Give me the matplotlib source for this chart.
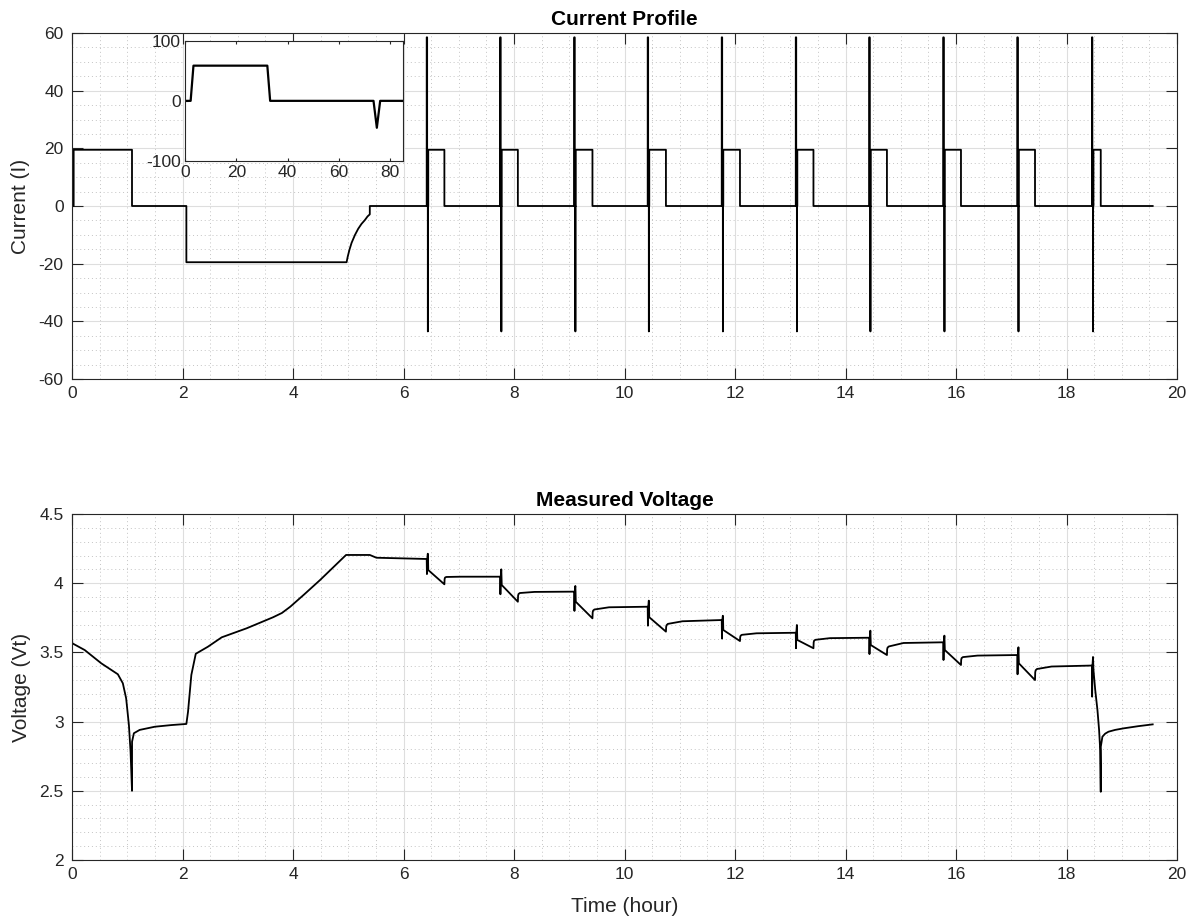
import matplotlib
matplotlib.use("Agg")
import matplotlib.pyplot as plt
from matplotlib.ticker import MultipleLocator

# ---------------- data ----------------
# Initial discharge, rest and CC-CV charge (time in hours, current in A)
prep_hours = [0.0, 0.03, 0.03, 1.086, 1.086, 2.07, 2.07, 4.97, 4.99, 5.02,
              5.06, 5.12, 5.18, 5.24, 5.30, 5.35, 5.39, 5.39]
prep_current = [0, 0, 19.5, 19.5, 0, 0, -19.5, -19.5, -17.6, -15.3,
                -12.8, -10.1, -7.9, -6.2, -4.9, -3.6, -2.9, 0]

# HPPC pulse train followed by a constant-current discharge step
pulse_hours = [6.42, 7.75, 9.09, 10.42, 11.76, 13.10, 14.43, 15.77, 17.11, 18.46]
step_end_hours = [6.74, 8.07, 9.42, 10.75, 12.09, 13.42, 14.75, 16.09, 17.43, 18.62]
end_hour = 19.56
pulse_offsets_h = [0.0, 0.0, 0.008, 0.008, 0.020, 0.021, 0.022, 0.028]
pulse_shape_a = [0, 58.5, 58.5, 0, 0, -43.5, 0, 0]
step_current_a = 19.5

# Measured terminal voltage during preparation (hours, V)
prep_v_hours = [0.0, 0.005, 0.23, 0.53, 0.83, 0.92, 0.98, 1.03, 1.06, 1.086,
                1.087, 1.12, 1.225, 1.50, 1.80, 2.07, 2.10, 2.16, 2.24, 2.46,
                2.71, 3.16, 3.64, 3.80, 3.95, 4.20, 4.49, 4.96, 5.39, 5.51]
prep_volts = [3.602, 3.566, 3.517, 3.421, 3.342, 3.277, 3.168, 2.975, 2.783, 2.50,
              2.855, 2.916, 2.94, 2.963, 2.975, 2.983, 3.071, 3.337, 3.490, 3.541,
              3.609, 3.674, 3.754, 3.785, 3.830, 3.918, 4.023, 4.204, 4.204, 4.184]

# Voltage landmarks for each pulse
v_rest = [4.175, 4.047, 3.939, 3.830, 3.734, 3.642, 3.606, 3.573, 3.481, 3.405]
v_hi = [4.213, 4.100, 3.980, 3.874, 3.765, 3.698, 3.657, 3.621, 3.537, 3.467]
v_lo = [4.066, 3.920, 3.800, 3.693, 3.600, 3.530, 3.488, 3.445, 3.342, 3.180]
v_start = [4.095, 3.987, 3.866, 3.754, 3.662, 3.590, 3.553, 3.517, 3.421, 3.373]
v_min = [3.992, 3.866, 3.746, 3.650, 3.582, 3.530, 3.481, 3.409, 3.300]
v_jump = [4.030, 3.910, 3.790, 3.685, 3.610, 3.573, 3.523, 3.447, 3.357]
v_bend = [4.041, 3.922, 3.802, 3.697, 3.621, 3.585, 3.535, 3.459, 3.371]
v_knee = [4.045, 3.929, 3.810, 3.706, 3.627, 3.591, 3.543, 3.466, 3.380]
v_mid = [4.047, 3.937, 3.826, 3.725, 3.638, 3.603, 3.568, 3.477, 3.398]

# Final discharge to cut-off and relaxation
tail_hours = [18.52, 18.56, 18.59, 18.61, 18.62, 18.621, 18.65, 18.70, 18.76, 18.88,
              19.03, 19.30, 19.56]
tail_volts = [3.228, 3.084, 2.939, 2.795, 2.493, 2.819, 2.891, 2.913, 2.927, 2.940,
              2.951, 2.967, 2.980]

# Single pulse detail (seconds, A)
inset_seconds = [0, 2.2, 3.3, 32.1, 33.2, 73.5, 74.8, 76.1, 85]
inset_current = [0, 0, 58.8, 58.8, 0, 0, -45, 0, 0]

# ---------------- traces ----------------
cur_t = list(prep_hours)
cur_i = list(prep_current)
for tp, te in zip(pulse_hours, step_end_hours):
    cur_t += [tp + o for o in pulse_offsets_h]
    cur_i += pulse_shape_a
    cur_t += [tp + pulse_offsets_h[-1], te, te]
    cur_i += [step_current_a, step_current_a, 0]
cur_t.append(end_hour)
cur_i.append(0)

volt_t = list(prep_v_hours)
volt_v = list(prep_volts)
for k, tp in enumerate(pulse_hours):
    volt_t += [tp, tp + 0.004, tp + 0.010, tp + 0.020, tp + 0.024, tp + 0.028]
    volt_v += [v_rest[k], v_lo[k], v_rest[k], v_hi[k], v_rest[k], v_start[k]]
    te = step_end_hours[k]
    if k < len(v_min):
        volt_t += [te, te + 0.004, te + 0.012, te + 0.035, te + 0.3]
        volt_v += [v_min[k], v_jump[k], v_bend[k], v_knee[k], v_mid[k]]
    else:
        volt_t += tail_hours
        volt_v += tail_volts

# ---------------- styling ----------------
plt.rcParams['font.family'] = ['Liberation Sans', 'DejaVu Sans']
plt.rcParams['axes.unicode_minus'] = False
frame_c = '#262626'
W, H = 1195, 923
fig = plt.figure(figsize=(W / 100, H / 100), dpi=100)


def px_axes(left, top, right, bottom):
    return fig.add_axes([left / W, 1 - bottom / H, (right - left) / W, (bottom - top) / H])


def style(ax, ticklen, grid=True):
    for s in ax.spines.values():
        s.set_color(frame_c)
        s.set_linewidth(0.8)
    ax.tick_params(which='major', direction='in', length=ticklen, width=0.8,
                   color=frame_c, labelcolor=frame_c, labelsize=12.5,
                   top=True, right=True)
    ax.tick_params(axis='y', pad=6)
    ax.tick_params(axis='x', pad=5)
    ax.tick_params(which='minor', length=0)
    if grid:
        ax.grid(True, which='major', color='#dedede', lw=0.8, ls='-')
        ax.grid(True, which='minor', color='#c4c4c4', lw=0.7, ls=(0, (1, 3)))
        ax.set_axisbelow(True)


ax1 = px_axes(72, 33, 1177, 379)
ax2 = px_axes(72, 514, 1177, 860)

ax1.plot(cur_t, cur_i, color='black', lw=1.3)
ax1.set_xlim(0, 20)
ax1.set_ylim(-60, 60)
ax1.xaxis.set_major_locator(MultipleLocator(2))
ax1.xaxis.set_minor_locator(MultipleLocator(0.5))
ax1.yaxis.set_major_locator(MultipleLocator(20))
ax1.yaxis.set_minor_locator(MultipleLocator(5))
style(ax1, 8)
ax1.set_title('Current Profile', fontsize=15, fontweight='bold', color='black', pad=6)
ax1.set_ylabel('Current (I)', fontsize=15, color=frame_c, labelpad=6)

ax2.plot(volt_t, volt_v, color='black', lw=1.3)
ax2.set_xlim(0, 20)
ax2.set_ylim(2, 4.5)
ax2.xaxis.set_major_locator(MultipleLocator(2))
ax2.xaxis.set_minor_locator(MultipleLocator(0.5))
ax2.yaxis.set_major_locator(MultipleLocator(0.5))
ax2.yaxis.set_minor_locator(MultipleLocator(0.1))
ax2.yaxis.set_major_formatter(plt.FuncFormatter(lambda v, _: f'{v:g}'))
style(ax2, 8)
ax2.set_title('Measured Voltage', fontsize=15, fontweight='bold', color='black', pad=6)
ax2.set_ylabel('Voltage (Vt)', fontsize=15, color=frame_c, labelpad=6)
ax2.set_xlabel('Time (hour)', fontsize=15, color=frame_c, labelpad=11)

ax_in = px_axes(185, 41, 403, 160.7)
ax_in.set_facecolor('white')
ax_in.plot(inset_seconds, inset_current, color='black', lw=1.6)
ax_in.set_xlim(0, 85)
ax_in.set_ylim(-100, 100)
ax_in.set_xticks([0, 20, 40, 60, 80])
ax_in.set_yticks([-100, 0, 100])
style(ax_in, 2.5, grid=False)
ax_in.tick_params(axis='both', pad=3)

fig.savefig('out.png', dpi=100, facecolor='white')
